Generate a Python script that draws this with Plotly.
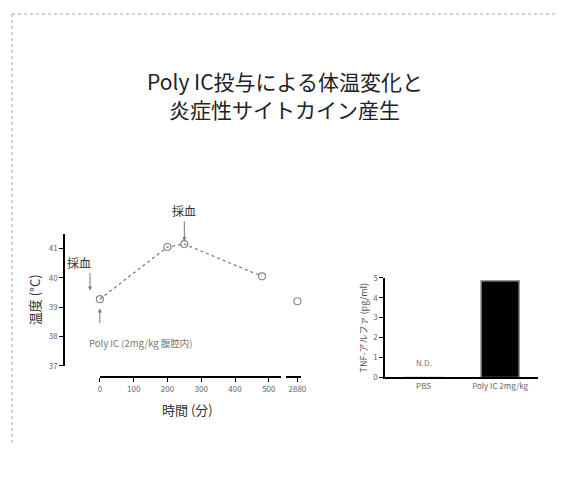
import plotly.graph_objects as go

W, H = 565, 478
FONT = "Noto Sans CJK JP"
OFF = 8  # page body margin

# Temperature time course
time_min = [0, 200, 250, 480]
temp_c = [39.27, 41.05, 41.15, 40.05]
late_time = [2880]
late_temp = [39.2]
x_ticks = [0, 100, 200, 300, 400, 500]
y_ticks = [37, 38, 39, 40, 41]

# TNF bars
groups = ["PBS", "Poly IC 2mg/kg"]
tnf = [0, 4.85]
tnf_ticks = [0, 1, 2, 3, 4, 5]

title_lines = ["Poly IC投与による体温変化と", "炎症性サイトカイン産生"]

def px(x):
    return (x - OFF) / W

def py(y):
    return 1 - (y - OFF) / H

fig = go.Figure()

fig.add_trace(go.Scatter(
    x=time_min, y=temp_c, xaxis="x", yaxis="y", mode="lines+markers",
    line=dict(color="#777", width=1.2, dash="dot"),
    marker=dict(symbol="circle-open", size=7, color="#888", line=dict(width=1.2)),
    showlegend=False, cliponaxis=False))
fig.add_trace(go.Scatter(
    x=late_time, y=late_temp, xaxis="x2", yaxis="y", mode="markers",
    marker=dict(symbol="circle-open", size=7, color="#888", line=dict(width=1.2)),
    showlegend=False, cliponaxis=False))
fig.add_trace(go.Bar(
    x=groups, y=tnf, xaxis="x3", yaxis="y3", width=0.5,
    marker=dict(color="black", line=dict(color="#999", width=1.5)),
    showlegend=False))

axfont = dict(family=FONT, size=8, color="#666")
common = dict(showgrid=False, zeroline=False, showline=True, linecolor="black",
              linewidth=2, ticks="outside", tickcolor="black", ticklen=4,
              tickfont=axfont)

fig.update_layout(
    width=W, height=H, margin=dict(l=0, r=0, t=0, b=0),
    paper_bgcolor="white", plot_bgcolor="white",
    font=dict(family=FONT),
    xaxis=dict(domain=[px(99), px(282)], range=[0, 535], anchor="free",
               position=py(380), tickvals=x_ticks, **common),
    xaxis2=dict(domain=[px(287), px(303)], range=[2835, 2895], anchor="free",
                position=py(380), tickvals=late_time, **common),
    yaxis=dict(domain=[py(368), py(233)], range=[37, 41.5], anchor="free",
               position=px(63), tickvals=y_ticks,
               title=dict(text="温度 (°C)", font=dict(family=FONT, size=13, color="#333"),
                          standoff=4), **common),
    xaxis3=dict(domain=[px(388), px(543)], range=[-0.5, 1.5], anchor="y3",
                showgrid=False, zeroline=False, showline=True, linecolor="black",
                linewidth=2, ticks="", tickfont=axfont),
    yaxis3=dict(domain=[py(380), py(278)], range=[0, 5], anchor="x3",
                tickvals=tnf_ticks,
                title=dict(text="TNF-アルファ (pg/ml)", font=dict(family=FONT, size=9, color="#555"),
                           standoff=4), **common),
    bargap=0.5,
)

annos = [
    dict(text=title_lines[0], xref="paper", yref="paper",
         x=px(286), y=py(77), xanchor="center", yanchor="middle", showarrow=False,
         font=dict(family=FONT, size=21, color="#222")),
    dict(text=title_lines[1], xref="paper", yref="paper",
         x=px(286), y=py(105), xanchor="center", yanchor="middle", showarrow=False,
         font=dict(family=FONT, size=21, color="#222")),
    dict(text="時間 (分)", xref="paper", yref="paper", x=px(188), y=py(413),
         xanchor="center", yanchor="middle",
         showarrow=False, font=dict(family=FONT, size=13, color="#333")),
    dict(text="採血", xref="x", yref="y", x=250, y=41.25, ax=0, ay=-20,
         showarrow=True, arrowhead=2, arrowsize=0.8, arrowwidth=1, arrowcolor="#777",
         font=dict(family=FONT, size=12, color="#333"), yanchor="bottom"),
    dict(text="採血", xref="paper", yref="paper", x=px(78), y=py(262),
         xanchor="center", yanchor="middle", showarrow=False,
         font=dict(family=FONT, size=12, color="#333")),
    dict(text="", xref="paper", yref="paper", x=px(89), y=py(291), ax=0, ay=-19,
         showarrow=True, arrowhead=2, arrowsize=0.8, arrowwidth=1, arrowcolor="#777"),
    dict(text="", xref="x", yref="y", x=0, y=38.95, ax=0, ay=16,
         showarrow=True, arrowhead=2, arrowsize=0.8, arrowwidth=1, arrowcolor="#777"),
    dict(text="Poly IC (2mg/kg 腹腔内)", xref="paper", yref="paper", x=px(86), y=py(345),
         xanchor="left", yanchor="middle", showarrow=False,
         font=dict(family=FONT, size=9.5, color="#777")),
    dict(text="N.D.", xref="x3", yref="y3", x=groups[0], y=0.35, yanchor="bottom",
         showarrow=False, font=dict(family=FONT, size=8, color="#777")),
]
fig.update_layout(annotations=annos)

fig.update_layout(shapes=[
    dict(type="line", xref="paper", yref="paper", x0=px(10), x1=px(575), y0=py(8), y1=py(8),
         line=dict(color="#aaa", width=1, dash="dot")),
    dict(type="line", xref="paper", yref="paper", x0=px(10), x1=px(10), y0=py(8), y1=py(448),
         line=dict(color="#aaa", width=1, dash="dot")),
])

fig.write_html("out.html")
